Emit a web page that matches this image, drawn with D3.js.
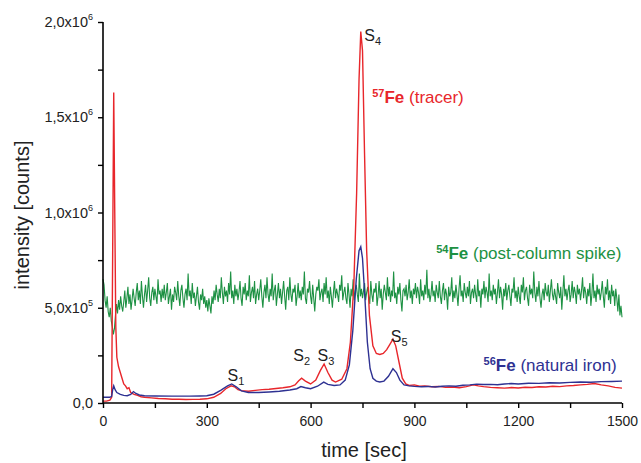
<!DOCTYPE html>
<html>
<head>
<meta charset="utf-8">
<script src="https://cdn.jsdelivr.net/npm/d3@7"></script>
<style>
  body { margin: 0; background: #fff; }
  text { font-family: "Liberation Sans", Arial, sans-serif; }
</style>
</head>
<body>
<script>
// values in units of 1e5 counts
var fe57 = [[0,0.1],[10,0.1],[20,0.15],[25,0.3],[28,8],[31,16.3],[34,10],[37,4],[40,2.4],[45,1.9],[50,1.6],[55,1.3],[60,1.0],[65,0.9],[70,0.75],[75,0.8],[80,0.55],[90,0.45],[100,0.4],[110,0.33],[120,0.3],[140,0.27],[160,0.24],[180,0.22],[200,0.2],[220,0.2],[240,0.18],[260,0.19],[280,0.2],[300,0.22],[320,0.3],[340,0.5],[355,0.75],[370,0.9],[380,0.85],[390,0.7],[400,0.65],[420,0.62],[440,0.66],[460,0.7],[480,0.72],[500,0.76],[520,0.8],[540,0.85],[555,0.95],[565,1.15],[574,1.3],[585,1.15],[600,1.0],[615,1.2],[628,1.7],[639,2.05],[650,1.6],[662,1.2],[672,1.1],[690,1.25],[705,1.8],[715,3.2],[725,6.2],[733,11],[740,17],[745,19.5],[750,18.5],[756,13],[762,8],[770,4.6],[780,3.0],[790,2.6],[800,2.55],[810,2.6],[820,2.8],[830,3.1],[838,3.35],[846,3.0],[856,2.1],[865,1.3],[875,1.0],[885,0.92],[900,0.95],[915,0.88],[930,0.9],[950,0.85],[970,0.87],[990,0.82],[1010,0.84],[1030,0.8],[1050,0.86],[1070,0.95],[1085,0.9],[1100,0.86],[1120,0.82],[1140,0.8],[1160,0.78],[1180,0.81],[1200,0.79],[1220,0.83],[1240,0.81],[1260,0.85],[1280,0.84],[1300,0.88],[1320,0.86],[1340,0.9],[1360,0.92],[1380,0.95],[1400,0.98],[1420,1.02],[1440,0.95],[1460,0.9],[1480,0.82],[1500,0.78]];

var fe56 = [[0,0.3],[20,0.3],[25,0.35],[28,0.7],[31,0.9],[35,0.7],[40,0.55],[50,0.45],[60,0.4],[70,0.38],[80,0.45],[88,0.6],[95,0.5],[105,0.42],[120,0.38],[150,0.37],[200,0.36],[250,0.36],[280,0.37],[300,0.38],[320,0.46],[340,0.66],[360,0.9],[372,1.0],[385,0.85],[400,0.64],[420,0.55],[450,0.55],[480,0.58],[510,0.62],[540,0.68],[560,0.75],[572,0.86],[585,0.8],[600,0.75],[620,0.88],[638,1.1],[650,0.98],[668,0.92],[685,0.95],[700,1.2],[712,2.0],[722,3.8],[732,6.5],[740,8.0],[745,8.2],[750,7.6],[757,5.5],[764,3.2],[772,1.8],[780,1.3],[790,1.15],[800,1.1],[812,1.15],[825,1.4],[838,1.8],[848,1.6],[858,1.2],[870,0.95],[885,0.9],[900,0.87],[920,0.85],[940,0.87],[960,0.84],[980,0.88],[1000,0.9],[1020,0.88],[1040,0.93],[1060,0.95],[1080,0.99],[1100,0.97],[1120,0.98],[1140,0.96],[1160,1.0],[1180,1.02],[1200,1.0],[1230,1.04],[1260,1.03],[1290,1.06],[1320,1.05],[1350,1.08],[1380,1.1],[1410,1.09],[1440,1.12],[1470,1.13],[1500,1.15]];

// 54Fe spike, read about every 3 s from 0 to 1500 s
var fe54 = [
6.5,6.2,5.4,5.0,5.6,4.8,4.5,5.0,4.3,4.0,3.6,3.9,4.6,5.2,4.7,5.4,4.9,5.6,5.1,4.8,
5.3,5.9,5.0,5.5,6.1,5.2,5.7,4.9,5.4,6.0,5.5,5.1,5.8,6.3,5.4,5.9,5.2,6.4,5.6,5.0,
5.7,6.2,5.3,5.9,6.6,5.5,5.1,5.8,6.1,5.4,6.0,5.6,5.2,6.5,5.7,5.9,5.3,6.0,5.5,6.2,
5.4,5.8,6.3,5.2,5.6,6.0,4.9,5.7,5.3,6.1,5.8,5.4,6.4,5.6,5.1,5.9,6.2,5.5,5.0,5.7,
6.0,5.4,6.8,5.6,5.9,5.2,6.3,5.5,5.8,5.1,5.6,6.1,5.3,4.9,5.7,5.4,6.0,5.2,5.6,5.0,
5.4,4.8,5.5,5.1,4.7,5.6,5.2,5.9,5.4,6.2,5.7,5.3,6.0,5.5,6.6,5.8,5.2,6.1,5.6,5.9,
5.3,6.3,5.7,6.9,5.5,5.9,5.2,6.2,5.6,6.0,5.4,5.8,6.4,5.5,5.1,6.1,5.7,6.3,5.4,5.9,
5.6,6.7,5.3,5.8,6.1,5.5,6.4,5.2,5.7,6.0,5.4,5.9,6.5,5.6,5.0,5.8,6.2,5.5,6.6,5.7,
5.3,6.0,5.6,6.8,5.4,5.9,6.2,5.1,5.7,6.3,5.5,6.0,5.2,5.8,6.4,5.6,4.9,5.9,6.1,5.4,
6.6,5.7,5.3,6.0,5.8,6.2,5.1,5.6,6.3,5.5,5.9,5.4,6.1,5.7,6.9,5.5,5.2,6.0,5.8,6.4,
5.6,5.2,6.2,5.5,4.8,5.7,6.1,5.9,6.5,5.4,5.8,6.0,5.3,6.3,5.7,6.6,5.5,5.9,5.2,6.1,
5.6,5.0,5.8,6.4,5.5,6.0,5.7,5.3,6.2,5.9,6.7,5.4,5.8,6.1,5.5,5.2,6.3,5.7,5.0,6.0,
5.6,6.5,5.4,5.9,6.2,5.7,5.3,6.8,5.6,6.0,5.5,5.9,6.3,5.4,5.8,6.1,5.6,5.2,6.4,5.7,
5.3,6.0,5.8,6.3,5.1,5.6,6.4,5.5,6.0,4.9,5.7,6.2,5.8,5.4,6.6,5.6,6.1,5.3,5.9,5.6,
6.9,5.5,5.8,5.2,6.1,5.7,6.3,5.4,4.8,5.9,6.0,5.6,6.2,5.4,5.8,6.5,5.5,5.9,5.2,6.0,
5.7,6.3,5.5,6.1,5.8,5.2,6.5,5.6,5.9,5.4,6.2,5.7,7.0,5.5,6.0,5.3,5.7,6.4,5.6,5.9,
5.3,6.2,5.8,5.5,6.4,5.6,5.2,5.9,6.3,5.4,6.0,5.7,4.9,6.1,5.6,5.8,6.6,5.3,5.9,5.5,
6.2,5.7,5.1,6.0,6.7,5.6,5.9,5.3,6.3,5.8,5.5,6.1,5.6,6.4,5.2,5.8,6.0,5.5,6.2,5.7,
5.3,6.5,5.6,5.9,5.0,6.0,5.7,6.4,5.5,6.1,5.8,5.3,6.8,5.6,5.9,5.4,6.2,5.7,6.0,5.2,
5.8,6.5,5.5,6.1,5.7,4.9,6.0,5.6,6.3,5.4,5.9,6.2,5.6,5.1,6.0,5.8,6.6,5.5,5.9,5.3,
6.1,5.6,5.2,6.2,5.8,6.6,5.4,5.9,6.1,5.5,5.1,6.2,5.7,6.0,5.5,6.9,5.8,5.3,6.1,5.6,
6.4,5.5,5.0,5.7,6.0,5.4,6.3,5.8,5.6,6.2,5.3,5.9,6.5,5.7,5.4,6.0,5.6,5.2,6.3,5.8,
5.5,6.1,4.9,5.8,6.7,5.6,6.0,5.4,5.9,6.2,5.3,5.7,6.4,5.5,6.1,5.8,5.2,6.2,5.7,6.0,
5.4,5.9,6.6,5.5,6.1,5.8,5.2,6.0,5.6,6.3,5.1,5.7,6.8,5.5,5.9,5.3,6.2,5.7,6.0,5.4,
5.8,6.4,5.6,5.0,6.1,5.7,6.5,5.4,5.9,5.2,6.2,5.6,5.9,5.1,6.0,5.5,4.8,5.7,4.6,5.1,
4.5];

var xTicks = [0, 300, 600, 900, 1200, 1500];
var yTicks = [0, 5e5, 1e6, 1.5e6, 2e6];
var yTickLabels = [["0,0", ""], ["5,0x10", "5"], ["1,0x10", "6"], ["1,5x10", "6"], ["2,0x10", "6"]];

var peaks = [["S", "1", 360, 1.15], ["S", "2", 550, 2.2], ["S", "3", 620, 2.2], ["S", "4", 755, 19.0], ["S", "5", 832, 3.2]];
var legends = [
  {iso: "57", name: " (tracer)", t: 778, v: 15.75, color: "#e8262b"},
  {iso: "54", name: " (post-column spike)", t: 963, v: 7.55, color: "#1d9143"},
  {iso: "56", name: " (natural iron)", t: 1100, v: 1.68, color: "#2e3192"}
];

var width = 641, height = 463;
var margin = {top: 22, right: 19, bottom: 60, left: 103};

var svg = d3.select('body').append('svg')
    .attr('width', width)
    .attr('height', height);

var x = d3.scaleLinear().domain([0, 1500]).range([margin.left, width - margin.right]);
var y = d3.scaleLinear().domain([0, 2e6]).range([height - margin.bottom, margin.top]);

var line = d3.line()
    .x(function (d) { return x(d[0]); })
    .y(function (d) { return y(d[1] * 1e5); });

var step = 1500 / (fe54.length - 1);
var greenPts = fe54.map(function (v, i) { return [i * step, v]; });

svg.append('path').attr('d', line(greenPts)).attr('stroke', '#1d9143').attr('stroke-width', 1.1).attr('fill', 'none');
svg.append('path').attr('d', line(fe57)).attr('stroke', '#e8262b').attr('stroke-width', 1.4).attr('fill', 'none');
svg.append('path').attr('d', line(fe56)).attr('stroke', '#2e3192').attr('stroke-width', 1.4).attr('fill', 'none');

// axes
var xAxis = d3.axisBottom(x).tickValues(d3.range(0, 1501, 150)).tickSize(5)
    .tickFormat(function (d) { return xTicks.indexOf(d) >= 0 ? d : ''; });
var gx = svg.append('g').attr('transform', 'translate(0,' + y(0) + ')').call(xAxis);
gx.select('.domain').attr('stroke-width', 1.6).attr('d', 'M' + x(0) + ',0H' + x(1500));
gx.selectAll('.tick line').attr('stroke-width', 1.4);
gx.selectAll('.tick text').attr('font-size', 14).attr('fill', '#222').attr('dy', '1.1em');

var yAxis = d3.axisLeft(y).tickValues(d3.range(0, 2e6 + 1, 2.5e5)).tickSize(5).tickFormat('');
var gy = svg.append('g').attr('transform', 'translate(' + x(0) + ',0)').call(yAxis);
gy.select('.domain').attr('stroke-width', 1.6).attr('d', 'M0,' + y(0) + 'V' + y(2e6));
gy.selectAll('.tick line').attr('stroke-width', 1.4);

yTicks.forEach(function (v, i) {
  var t = svg.append('text').attr('x', x(0) - 10).attr('y', y(v) + 5)
      .attr('text-anchor', 'end').attr('font-size', 14.5).attr('fill', '#222');
  t.append('tspan').text(yTickLabels[i][0]);
  if (yTickLabels[i][1]) {
    t.append('tspan').attr('font-size', 9).attr('dy', -7).text(yTickLabels[i][1]);
  }
});

svg.append('text').attr('transform', 'translate(29,215) rotate(-90)')
    .attr('text-anchor', 'middle').attr('font-size', 20).attr('fill', '#222')
    .text('intensity [counts]');
svg.append('text').attr('x', 364).attr('y', 457)
    .attr('text-anchor', 'middle').attr('font-size', 20).attr('fill', '#222')
    .text('time [sec]');

// peak labels
peaks.forEach(function (p) {
  var t = svg.append('text').attr('x', x(p[2])).attr('y', y(p[3] * 1e5))
      .attr('font-size', 16).attr('fill', '#222');
  t.append('tspan').text(p[0]);
  t.append('tspan').attr('font-size', 11).attr('dy', 4).text(p[1]);
});

// series labels
legends.forEach(function (l) {
  var t = svg.append('text').attr('x', x(l.t)).attr('y', y(l.v * 1e5))
      .attr('font-size', 17).attr('fill', l.color);
  t.append('tspan').attr('font-size', 11).attr('font-weight', 'bold').attr('dy', -6).text(l.iso);
  t.append('tspan').attr('font-weight', 'bold').attr('dy', 6).text('Fe');
  t.append('tspan').text(l.name);
});
</script>
</body>
</html>
